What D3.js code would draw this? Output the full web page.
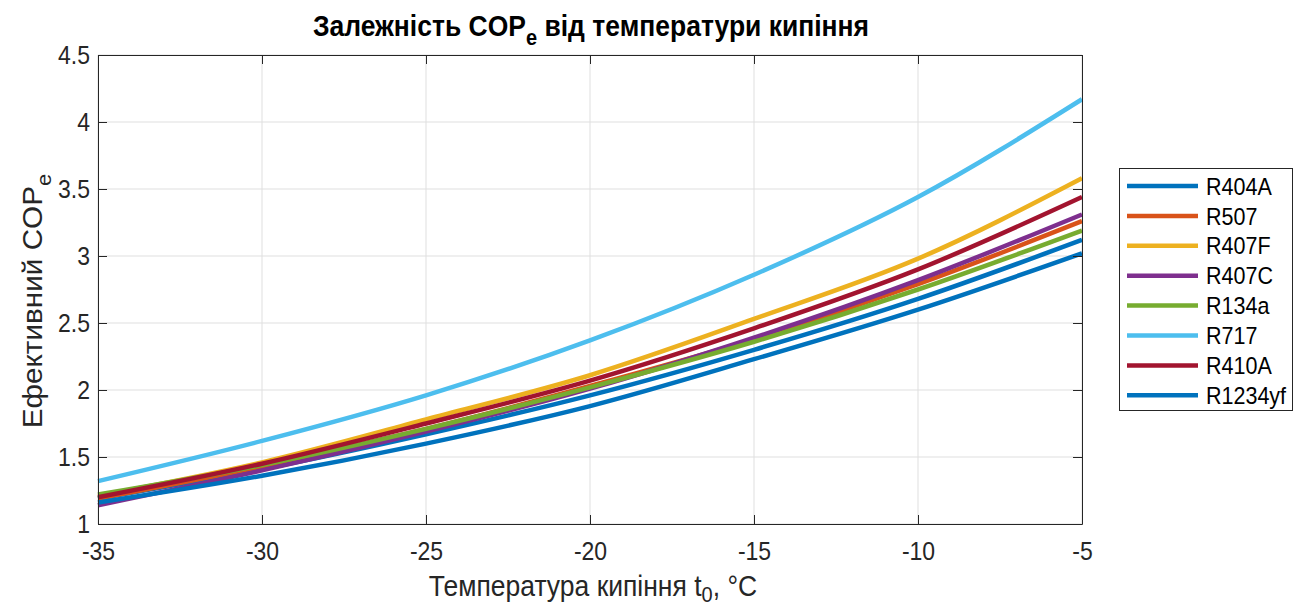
<!DOCTYPE html>
<html><head><meta charset="utf-8">
<script src="https://cdn.jsdelivr.net/npm/d3@7"></script>
<style>
body{margin:0;background:#fff;}
text{font-family:"Liberation Sans",Arial,Helvetica,sans-serif;}
</style></head>
<body><svg id="c" width="1303" height="606"></svg>
<script>
const temps = [-35, -30, -25, -20, -15, -10, -5];
const seriesNames = ["R404A","R507","R407F","R407C","R134a","R717","R410A","R1234yf"];
const seriesColors = ["#0072BD","#D95319","#EDB120","#7E2F8E","#77AC30","#4DBEEE","#A2142F","#0072BD"];
const R404A   = [1.19, 1.41, 1.67, 1.96, 2.30, 2.68, 3.12];
const R507    = [1.19, 1.43, 1.71, 2.03, 2.38, 2.79, 3.26];
const R407F   = [1.21, 1.46, 1.78, 2.11, 2.53, 2.98, 3.58];
const R407C   = [1.14, 1.40, 1.69, 2.01, 2.39, 2.82, 3.31];
const R134a   = [1.22, 1.44, 1.71, 2.02, 2.36, 2.75, 3.19];
const R717    = [1.32, 1.62, 1.96, 2.37, 2.86, 3.44, 4.17];
const R410A   = [1.20, 1.45, 1.75, 2.07, 2.46, 2.90, 3.44];
const R1234yf = [1.16, 1.36, 1.60, 1.88, 2.23, 2.60, 3.02];
const seriesValues = [R404A, R507, R407F, R407C, R134a, R717, R410A, R1234yf];
const xTicks = [-35, -30, -25, -20, -15, -10, -5];
const yTicks = [1, 1.5, 2, 2.5, 3, 3.5, 4, 4.5];

const svg = d3.select("#c");
const L = 98, R = 1082, T = 55, B = 524;
const SY = 1.1;
const x = d3.scaleLinear().domain([-35, -5]).range([L, R]);
const y = d3.scaleLinear().domain([1, 4.5]).range([B, T]);
const axisCol = "#262626";

function stretchY(sel) {
  sel.each(function() {
    const b = this.getBBox();
    const cy = b.y + b.height / 2;
    d3.select(this).attr("transform", `translate(0,${cy}) scale(1,${SY}) translate(0,${-cy})`);
  });
}

// grid
const g = svg.append("g");
g.selectAll(".gx").data(xTicks).enter().append("line")
  .attr("x1", d => x(d)).attr("x2", d => x(d)).attr("y1", T).attr("y2", B)
  .attr("stroke", "#dfdfdf").attr("stroke-width", 1);
g.selectAll(".gy").data(yTicks).enter().append("line")
  .attr("x1", L).attr("x2", R).attr("y1", d => y(d)).attr("y2", d => y(d))
  .attr("stroke", "#dfdfdf").attr("stroke-width", 1);

// lines
const line = d3.line().x((d, i) => x(temps[i])).y(d => y(d)).curve(d3.curveMonotoneX);
seriesValues.forEach((vals, k) => {
  svg.append("path").attr("d", line(vals)).attr("fill", "none")
    .attr("stroke", seriesColors[k]).attr("stroke-width", 4.5).attr("stroke-linejoin", "round");
});

// axes
const fmt = d => String(d);
const axB = svg.append("g").attr("transform", `translate(0,${B})`)
  .call(d3.axisBottom(x).tickValues(xTicks).tickSizeInner(-9).tickSizeOuter(0).tickPadding(19).tickFormat(fmt));
const axL = svg.append("g").attr("transform", `translate(${L},0)`)
  .call(d3.axisLeft(y).tickValues(yTicks).tickSizeInner(-9).tickSizeOuter(0).tickPadding(8).tickFormat(fmt));
const axT = svg.append("g").attr("transform", `translate(0,${T})`)
  .call(d3.axisTop(x).tickValues(xTicks).tickSizeInner(-9).tickSizeOuter(0).tickFormat(""));
const axR = svg.append("g").attr("transform", `translate(${R},0)`)
  .call(d3.axisRight(y).tickValues(yTicks).tickSizeInner(-9).tickSizeOuter(0).tickFormat(""));
[axB, axL, axT, axR].forEach(a => {
  a.select(".domain").attr("stroke", axisCol).attr("stroke-width", 1);
  a.selectAll(".tick line").attr("stroke", axisCol);
  a.selectAll(".tick text").attr("fill", axisCol).attr("font-size", 23)
    .attr("font-family", '"Liberation Sans",Arial,sans-serif');
});
stretchY(axB.selectAll(".tick text"));
stretchY(axL.selectAll(".tick text"));

// title
const title = svg.append("text").attr("x", 591).attr("y", 35).attr("text-anchor", "middle")
  .attr("font-size", 26.5).attr("font-weight", "bold").attr("fill", "#000");
title.append("tspan").text("Залежність COP");
title.append("tspan").attr("dy", 9).attr("font-size", 20).text("e");
title.append("tspan").attr("dy", -9).text(" від температури кипіння");
stretchY(title);

// x label
const xl = svg.append("text").attr("x", 593).attr("y", 595).attr("text-anchor", "middle")
  .attr("font-size", 26.5).attr("fill", axisCol);
xl.append("tspan").text("Температура кипіння t");
xl.append("tspan").attr("dy", 6).attr("font-size", 20).text("0");
xl.append("tspan").attr("dy", -6).text(", °C");
stretchY(xl);

// y label
const yl = svg.append("text").attr("transform", `translate(42,301) rotate(-90) scale(${SY},1)`).attr("text-anchor", "middle")
  .attr("font-size", 27).attr("fill", axisCol);
yl.append("tspan").text("Ефективний COP");
yl.append("tspan").attr("dy", 9).attr("font-size", 20).text("e");

// legend
const lg = svg.append("g");
lg.append("rect").attr("x", 1119.5).attr("y", 168.5).attr("width", 173).attr("height", 242)
  .attr("fill", "#fff").attr("stroke", axisCol).attr("stroke-width", 1);
seriesNames.forEach((n, k) => {
  const yy = 186 + k * 29.9;
  lg.append("line").attr("x1", 1127).attr("x2", 1198).attr("y1", yy).attr("y2", yy)
    .attr("stroke", seriesColors[k]).attr("stroke-width", 4.5);
  const t = lg.append("text").attr("x", 1206).attr("y", yy + 8).attr("font-size", 21.5).attr("fill", "#000").text(n);
  stretchY(t);
});
</script></body></html>
